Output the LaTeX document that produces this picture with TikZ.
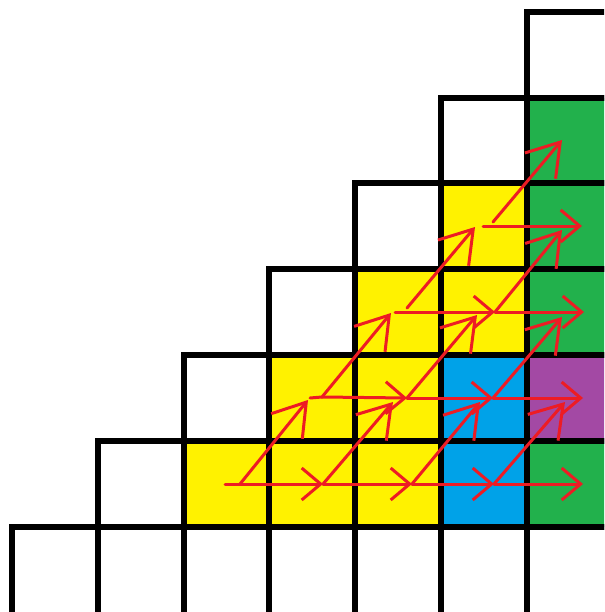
\documentclass[tikz,border=0pt]{standalone}
\usetikzlibrary{arrows.meta}
\definecolor{pyellow}{HTML}{FFF200}
\definecolor{pgreen}{HTML}{22B14C}
\definecolor{pblue}{HTML}{00A2E8}
\definecolor{ppurple}{HTML}{A349A4}
\definecolor{pred}{HTML}{ED1C24}
\begin{document}
\begin{tikzpicture}[x=1pt,y=-1pt,
  cellbox/.style={line width=6pt, draw=black},
  redline/.style={draw=pred, line width=3pt, line cap=round, line join=round},
  harrow/.style={redline, -{Straight Barb[length=19pt,width=32pt]}},
  darrow/.style={redline, -{Straight Barb[length=31pt,width=40pt]}}]
\useasboundingbox (0,0) rectangle (604,612);
\clip (0,0) rectangle (604,612);
% cells
\foreach \r/\c/\col in {0/6/white,
  1/5/white, 1/6/pgreen,
  2/4/white, 2/5/pyellow, 2/6/pgreen,
  3/3/white, 3/4/pyellow, 3/5/pyellow, 3/6/pgreen,
  4/2/white, 4/3/pyellow, 4/4/pyellow, 4/5/pblue, 4/6/ppurple,
  5/1/white, 5/2/pyellow, 5/3/pyellow, 5/4/pyellow, 5/5/pblue, 5/6/pgreen}
  \fill[\col] ({12+85.75*\c},{12+85.75*\r}) rectangle ++(85.75,85.75);
\foreach \r/\c in {0/6, 1/5, 1/6, 2/4, 2/5, 2/6, 3/3, 3/4, 3/5, 3/6,
  4/2, 4/3, 4/4, 4/5, 4/6, 5/1, 5/2, 5/3, 5/4, 5/5, 5/6}
  \draw[cellbox] ({12+85.75*\c},{12+85.75*\r}) rectangle ++(85.75,85.75);
% bottom row (its lower edge is mostly cut off)
\foreach \c in {0,...,6}
  \draw[cellbox] ({12+85.75*\c},{12+85.75*6}) rectangle ++(85.75,88);
% lattice points
\coordinate (a50) at (225,484);
\coordinate (d50) at (240,484);
\coordinate (a51) at (323,484);
\coordinate (a52) at (412,484);
\coordinate (a53) at (494,484);
\coordinate (a54) at (583,484);
\coordinate (a40) at (310,398);
\coordinate (d40) at (322,397);
\coordinate (a41) at (407,398);
\coordinate (a42) at (493,398);
\coordinate (a43) at (583,398);
\coordinate (t40) at (308,400);
\coordinate (t41) at (393,402);
\coordinate (t42) at (480,402);
\coordinate (t43) at (565,402);
\coordinate (a30) at (395,312);
\coordinate (d30) at (407,308);
\coordinate (a31) at (495,312);
\coordinate (a32) at (584,312);
\coordinate (t30) at (391,313);
\coordinate (t31) at (477,315);
\coordinate (t32) at (562,317);
\coordinate (a20) at (483,226);
\coordinate (d20) at (493,222);
\coordinate (a21) at (582,226);
\coordinate (t20) at (475,227);
\coordinate (t21) at (562,230);
\coordinate (t10) at (562,140);
% horizontal arrows
\draw[redline] (a50) -- (d50);
\draw[harrow] (d50) -- (a51);
\draw[harrow] (a51) -- (a52);
\draw[harrow] (a52) -- (a53);
\draw[harrow] (a53) -- (a54);
\draw[redline] (a40) -- (d40);
\draw[harrow] (d40) -- (a41);
\draw[harrow] (a41) -- (a42);
\draw[harrow] (a42) -- (a43);
\draw[redline] (a30) -- (d30|-a30);
\draw[harrow] (d30|-a30) -- (a31);
\draw[harrow] (a31) -- (a32);
\draw[harrow] (a20) -- (a21);
% diagonal arrows
\draw[darrow] (d50) -- (t40);
\draw[darrow] (a51) -- (t41);
\draw[darrow] (a52) -- (t42);
\draw[darrow] (a53) -- (t43);
\draw[darrow] (d40) -- (t30);
\draw[darrow] (a41) -- (t31);
\draw[darrow] (a42) -- (t32);
\draw[darrow] (d30) -- (t20);
\draw[darrow] (a31) -- (t21);
\draw[darrow] (d20) -- (t10);
\end{tikzpicture}
\end{document}
